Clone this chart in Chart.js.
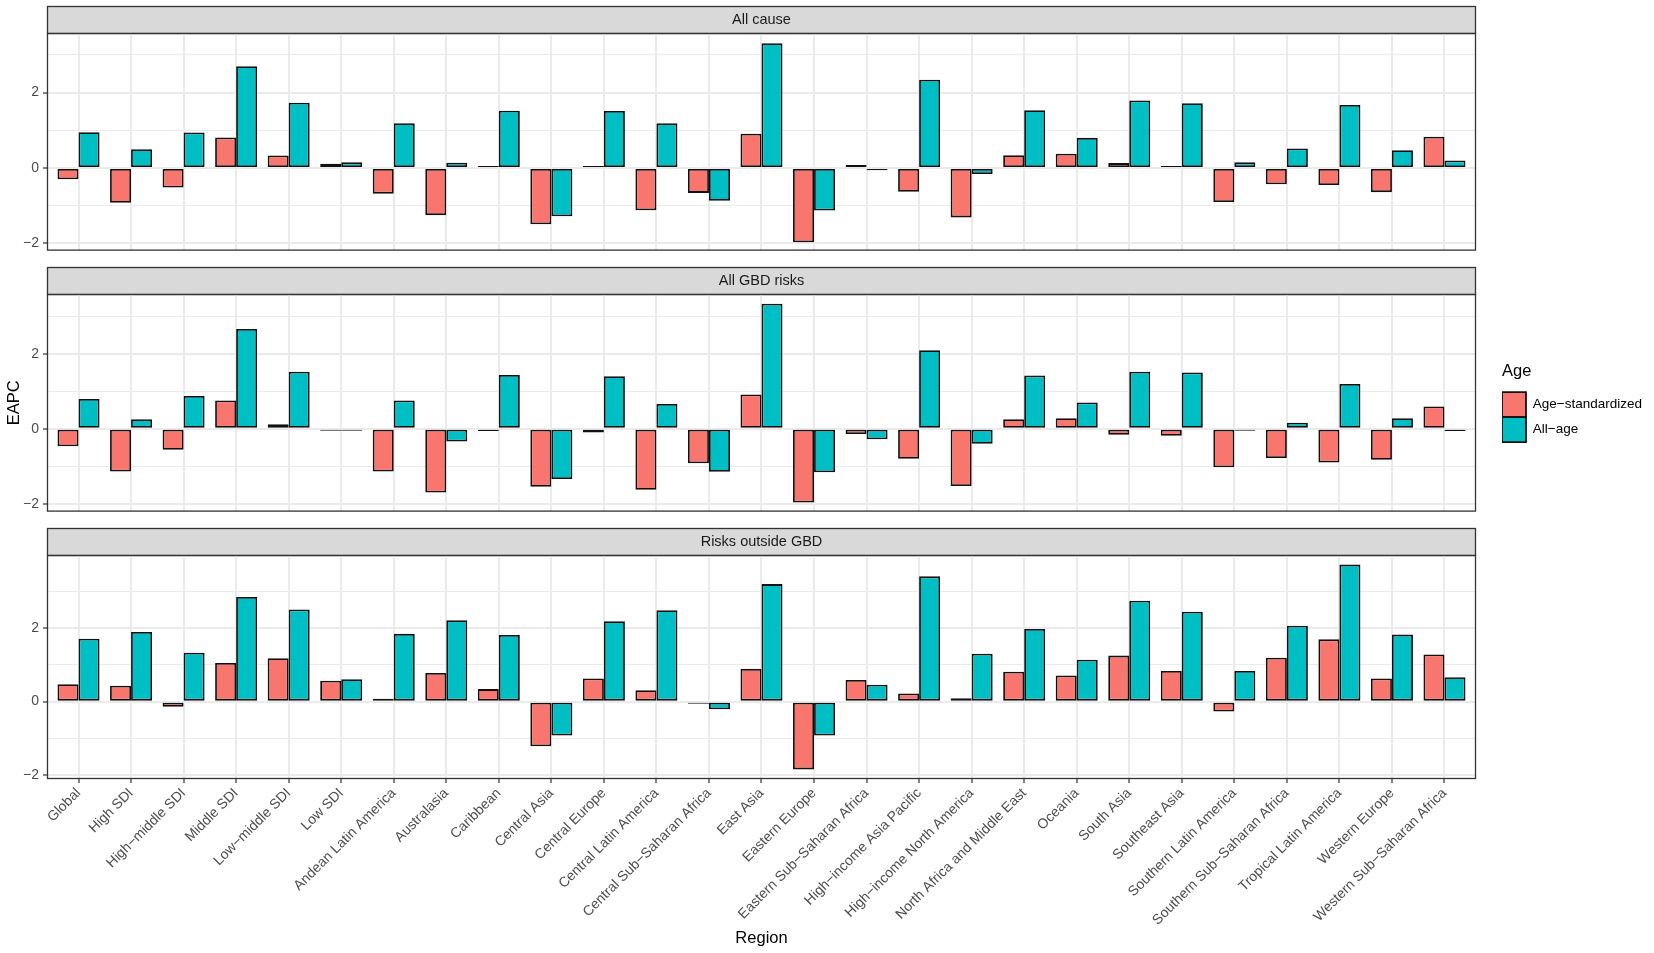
<!DOCTYPE html>
<html>
<head>
<meta charset="utf-8">
<script src="https://cdn.jsdelivr.net/npm/chart.js@4.4.1/dist/chart.umd.min.js"></script>
<style>
html,body{margin:0;padding:0;background:#fff;width:1654px;height:953px;overflow:hidden;}
.box{position:absolute;left:0;width:1654px;}
</style>
</head>
<body>
<div class="box" style="top:0;height:263px"><canvas id="c1"></canvas></div>
<div class="box" style="top:261px;height:263px"><canvas id="c2"></canvas></div>
<div class="box" style="top:522px;height:431px"><canvas id="c3"></canvas></div>
<script>
// ---------- data ----------
const categories = ['Global','High SDI','High\u2212middle SDI','Middle SDI','Low\u2212middle SDI','Low SDI',
  'Andean Latin America','Australasia','Caribbean','Central Asia','Central Europe','Central Latin America',
  'Central Sub\u2212Saharan Africa','East Asia','Eastern Europe','Eastern Sub\u2212Saharan Africa',
  'High\u2212income Asia Pacific','High\u2212income North America','North Africa and Middle East','Oceania',
  'South Asia','Southeast Asia','Southern Latin America','Southern Sub\u2212Saharan Africa',
  'Tropical Latin America','Western Europe','Western Sub\u2212Saharan Africa'];
const seriesNames = ['Age\u2212standardized', 'All\u2212age'];
const facetNames = ['All cause', 'All GBD risks', 'Risks outside GBD'];

const allCauseAgeStd = [-0.30,-0.92,-0.52,0.81,0.33,0.11,-0.68,-1.25,0.04,-1.49,0.01,-1.12,-0.66,0.91,-1.97,0.08,-0.63,-1.31,0.34,0.38,0.13,0.03,-0.90,-0.43,-0.45,-0.64,0.83];
const allCauseAllAge = [0.95,0.50,0.94,2.70,1.73,0.15,1.19,0.14,1.52,-1.28,1.51,1.19,-0.87,3.31,-1.13,-0.06,2.34,-0.16,1.53,0.80,1.79,1.72,0.15,0.52,1.67,0.47,0.20];

const gbdRisksAgeStd = [-0.47,-1.14,-0.56,0.75,0.12,-0.04,-1.14,-1.70,-0.06,-1.55,-0.10,-1.63,-0.92,0.91,-1.97,-0.14,-0.80,-1.53,0.25,0.28,-0.16,-0.19,-1.03,-0.78,-0.90,-0.83,0.59];
const gbdRisksAllAge = [0.79,0.25,0.87,2.66,1.52,-0.02,0.75,-0.34,1.43,-1.34,1.40,0.66,-1.15,3.33,-1.16,-0.28,2.09,-0.40,1.42,0.70,1.52,1.50,-0.03,0.16,1.19,0.28,-0.06];

const outsideAgeStd = [0.47,0.43,-0.14,1.05,1.18,0.57,0.08,0.78,0.34,-1.21,0.63,0.31,-0.05,0.89,-1.84,0.59,0.22,0.09,0.81,0.71,1.25,0.83,-0.27,1.19,1.69,0.63,1.28];
const outsideAllAge = [1.71,1.89,1.33,2.84,2.50,0.61,1.84,2.21,1.81,-0.92,2.18,2.48,-0.21,3.19,-0.92,0.46,3.40,1.30,1.97,1.14,2.74,2.44,0.83,2.06,3.72,1.82,0.66];

const yTickValues = [-2, -1, 0, 1, 2, 3];
const yLimitsAllCause = [-2.19, 3.58];
const yLimitsGbdRisks = [-2.21, 3.59];
const yLimitsOutside = [-2.10, 3.98];
const xLimits = [0.4, 27.6];

// ---------- style ----------
const colors = ['#F8766D', '#00BFC4'];
Chart.defaults.font.family = "'Liberation Sans', Arial, Helvetica, sans-serif";
Chart.defaults.animation = false;

const PANEL_LEFT = 47, PANEL_RIGHT = 1476;

const panelPlugin = {
  id: 'panelDecor',
  beforeDraw(chart) {
    const ctx = chart.ctx, a = chart.chartArea, t = chart.titleBlock;
    ctx.save();
    ctx.fillStyle = '#d9d9d9';
    ctx.fillRect(a.left, t.top, a.right - a.left, t.bottom - t.top);
    ctx.strokeStyle = '#333333';
    ctx.lineWidth = 1.3;
    ctx.strokeRect(a.left + 0.5, t.top + 0.5, a.right - a.left - 1, t.bottom - t.top);
    ctx.restore();
  },
  afterDraw(chart) {
    const ctx = chart.ctx, a = chart.chartArea;
    ctx.save();
    ctx.strokeStyle = '#333333';
    ctx.lineWidth = 1.3;
    ctx.strokeRect(a.left + 0.5, a.top + 0.5, a.right - a.left - 1, a.bottom - a.top - 1);
    ctx.restore();
  }
};

function fmt(v) { return v < 0 ? '\u2212' + Math.abs(v) : String(v); }

function makeChart(canvasId, idx, asVals, aaVals, yLim) {
  const isBottom = idx === 2, isMid = idx === 1;
  const scales = {
    x: {
      type: 'linear', min: xLimits[0], max: xLimits[1], offset: false,
      afterBuildTicks: s => { s.ticks = categories.map((c, i) => ({ value: i + 1 })); },
      afterFit: s => { s.height = isBottom ? 174 : 0; },
      grid: { color: '#ebebeb', lineWidth: 2, offset: false, drawTicks: isBottom, tickLength: 4, tickColor: '#333333', tickWidth: 1.2 },
      border: { display: false },
      ticks: { display: isBottom, autoSkip: false, minRotation: 45, maxRotation: 45, color: '#4d4d4d',
        font: { size: 14 }, padding: 2, callback: v => categories[v - 1] },
      title: { display: isBottom, text: 'Region', color: '#000000', font: { size: 16.5 }, padding: { top: 0, bottom: 5 } }
    },
    y: {
      type: 'linear', min: yLim[0], max: yLim[1],
      afterBuildTicks: s => { s.ticks = yTickValues.filter(v => v >= yLim[0] && v <= yLim[1]).map(v => ({ value: v })); },
      afterFit: s => { s.width = PANEL_LEFT; },
      grid: { color: '#ebebeb',
        lineWidth: c => (c.tick && c.tick.value % 2 === 0) ? 2 : 1.1,
        drawTicks: true, tickLength: 4,
        tickColor: c => (c.tick && c.tick.value % 2 === 0) ? '#333333' : 'rgba(0,0,0,0)',
        tickWidth: 1.2 },
      border: { display: false },
      ticks: { color: '#4d4d4d', font: { size: 14 }, padding: 4, callback: v => (v % 2 === 0 ? fmt(v) : '') },
      title: { display: isMid, text: 'EAPC', color: '#000000', font: { size: 16.5 }, padding: { top: 5, bottom: 0 } }
    }
  };
  if (isMid) {
    scales.gap = { type: 'linear', position: 'right', display: true,
      afterFit: s => { s.width = 26; },
      grid: { display: false, drawTicks: false }, border: { display: false }, ticks: { display: false } };
  }
  const mkData = vals => vals.map((v, i) => ({ x: i + 1, y: v }));
  const barStyle = { borderColor: '#111111', borderWidth: 1.8, borderSkipped: false, minBarLength: 2,
    categoryPercentage: 0.8, barPercentage: 1.0 };
  return new Chart(document.getElementById(canvasId), {
    type: 'bar',
    data: {
      datasets: [
        Object.assign({ label: seriesNames[0], data: mkData(asVals), backgroundColor: colors[0] }, barStyle),
        Object.assign({ label: seriesNames[1], data: mkData(aaVals), backgroundColor: colors[1] }, barStyle)
      ]
    },
    options: {
      responsive: true, maintainAspectRatio: false, animation: false,
      layout: { padding: { top: 6, bottom: isBottom ? 0 : 6, left: 0, right: isMid ? 8 : (1654 - PANEL_RIGHT) } },
      scales: scales,
      plugins: {
        tooltip: { enabled: false },
        title: { display: true, text: facetNames[idx], fullSize: false, color: '#1a1a1a',
          font: { size: 14.5, weight: 'normal', lineHeight: '15px' }, padding: { top: 6, bottom: 6 } },
        legend: {
          display: isMid, position: 'right', align: 'center', fullSize: false,
          title: { display: true, text: 'Age', position: 'start', color: '#000000',
            font: { size: 16.5, lineHeight: 1.2 }, padding: { top: 0, bottom: 9 } },
          labels: { boxWidth: 24, boxHeight: 25, padding: 0, color: '#000000', font: { size: 13.5 } }
        }
      }
    },
    plugins: [panelPlugin]
  });
}

const c1 = makeChart('c1', 0, allCauseAgeStd, allCauseAllAge, yLimitsAllCause);
const c2 = makeChart('c2', 1, gbdRisksAgeStd, gbdRisksAllAge, yLimitsGbdRisks);
const c3 = makeChart('c3', 2, outsideAgeStd, outsideAllAge, yLimitsOutside);

// align middle panel's right edge (which hosts the legend) with the others
for (let k = 0; k < 3; k++) {
  const diff = c2.chartArea.right - PANEL_RIGHT;
  if (Math.abs(diff) < 0.5) break;
  c2.options.layout.padding.right = Math.max(0, c2.options.layout.padding.right + diff);
  c2.update();
}
</script>
</body>
</html>
